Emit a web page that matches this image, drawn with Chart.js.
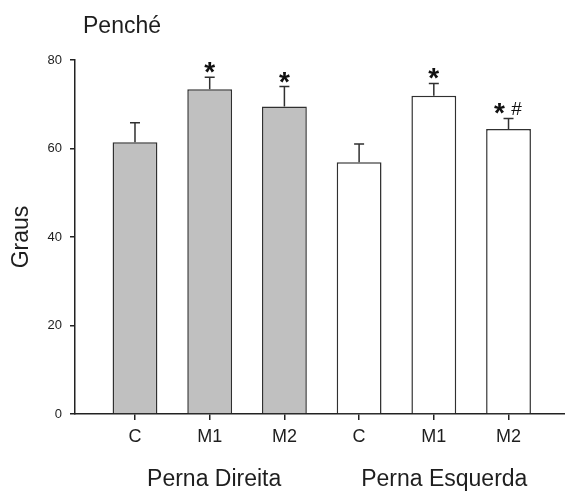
<!DOCTYPE html>
<html>
<head>
<meta charset="utf-8">
<script src="https://cdn.jsdelivr.net/npm/chart.js@4.4.0/dist/chart.umd.min.js"></script>
<style>
  html, body { margin: 0; padding: 0; background: #fff; }
  #wrap { width: 565px; height: 494px; }
</style>
</head>
<body>
<div id="wrap"><canvas id="pencheChart"></canvas></div>
<script>
// dados
const categories = ['C', 'M1', 'M2', 'C', 'M1', 'M2'];
const groups = ['Perna Direita', 'Perna Esquerda'];
const groupAt = [2.06, 5.14];
const means = [61.4, 73.4, 69.5, 56.9, 71.9, 64.4];
const errors = [4.4, 2.7, 4.5, 4.1, 2.8, 2.4];
const stars = ['', '*', '*', '', '*', '*'];
const hashes = ['', '', '', '', '', '#'];
const yTicks = [0, 20, 40, 60, 80];

const ink = '#1e1e1e';
const font = "'Liberation Sans', Arial, sans-serif";

const errorBars = {
  id: 'errorBars',
  afterDatasetsDraw(chart) {
    const ctx = chart.ctx;
    const y = chart.scales.y;
    const meta = chart.getDatasetMeta(0);
    ctx.save();
    ctx.strokeStyle = '#303030';
    ctx.lineWidth = 1.5;
    meta.data.forEach((bar, i) => {
      const top = y.getPixelForValue(means[i] + errors[i]);
      ctx.beginPath();
      ctx.moveTo(bar.x, bar.y);
      ctx.lineTo(bar.x, top);
      ctx.moveTo(bar.x - 5, top);
      ctx.lineTo(bar.x + 5, top);
      ctx.stroke();

      // asterisco e cerquilha acima da barra de erro
      ctx.fillStyle = '#111';
      ctx.textAlign = 'center';
      ctx.textBaseline = 'alphabetic';
      const cy = top - 12;
      if (stars[i]) {
        const sx = hashes[i] ? bar.x - 9 : bar.x;
        ctx.font = 'bold 28px ' + font;
        ctx.fillText(stars[i], sx, cy + 16);
      }
      if (hashes[i]) {
        ctx.font = '19px ' + font;
        ctx.fillText(hashes[i], bar.x + 8, cy + 3 + 6);
      }
    });
    ctx.restore();
  },
  afterDraw(chart) {
    const ctx = chart.ctx;
    const x = chart.scales.x;
    ctx.save();
    ctx.fillStyle = ink;
    ctx.font = '23px ' + font;
    ctx.textAlign = 'left';
    ctx.textBaseline = 'alphabetic';
    ctx.fillText('Penché', 83, 33);
    ctx.textAlign = 'center';
    groups.forEach((g, i) => {
      ctx.fillText(g, x.getPixelForValue(groupAt[i]), 486);
    });
    ctx.restore();
  }
};

const ctx = document.getElementById('pencheChart').getContext('2d');

const pencheChart = new Chart(ctx, {
  type: 'bar',
  data: {
    datasets: [{
      data: means.map((v, i) => ({ x: i + 1, y: v })),
      backgroundColor: categories.map((c, i) => i < 3 ? '#c0c0c0' : '#ffffff'),
      borderColor: '#303030',
      borderWidth: 1.5,
      barPercentage: 0.6,
      categoryPercentage: 1
    }]
  },
  options: {
    responsive: true,
    maintainAspectRatio: false,
    animation: false,
    layout: { padding: { top: 60, left: 0, right: 0, bottom: 0 } },
    plugins: {
      legend: { display: false },
      tooltip: { enabled: false },
      title: { display: false }
    },
    scales: {
      x: {
        type: 'linear',
        offset: false,
        min: 0.197,
        max: 6.756,
        afterBuildTicks: (scale) => {
          scale.ticks = categories.map((c, i) => ({ value: i + 1 }));
        },
        afterFit: (scale) => { scale.height = 80; },
        ticks: {
          autoSkip: false,
          maxRotation: 0,
          padding: 6,
          color: ink,
          font: { family: font, size: 18 },
          callback: (v, index) => categories[index]
        },
        grid: {
          offset: false,
          drawOnChartArea: false,
          drawTicks: true,
          tickLength: 6,
          color: '#222',
          lineWidth: 1.5
        },
        border: { display: true, color: '#222', width: 1.5 }
      },
      y: {
        min: 0,
        max: 80,
        afterBuildTicks: (scale) => {
          scale.ticks = yTicks.map(v => ({ value: v }));
        },
        afterFit: (scale) => { scale.width = 75; },
        ticks: {
          padding: 8,
          color: ink,
          font: { family: font, size: 13 }
        },
        grid: {
          drawOnChartArea: false,
          drawTicks: true,
          tickLength: 5,
          color: '#222',
          lineWidth: 1.5
        },
        border: { display: true, color: '#222', width: 1.5 },
        title: {
          display: true,
          text: 'Graus',
          color: ink,
          font: { family: font, size: 23 },
          padding: { top: 8, bottom: 0 }
        }
      }
    }
  },
  plugins: [errorBars]
});
</script>
</body>
</html>
